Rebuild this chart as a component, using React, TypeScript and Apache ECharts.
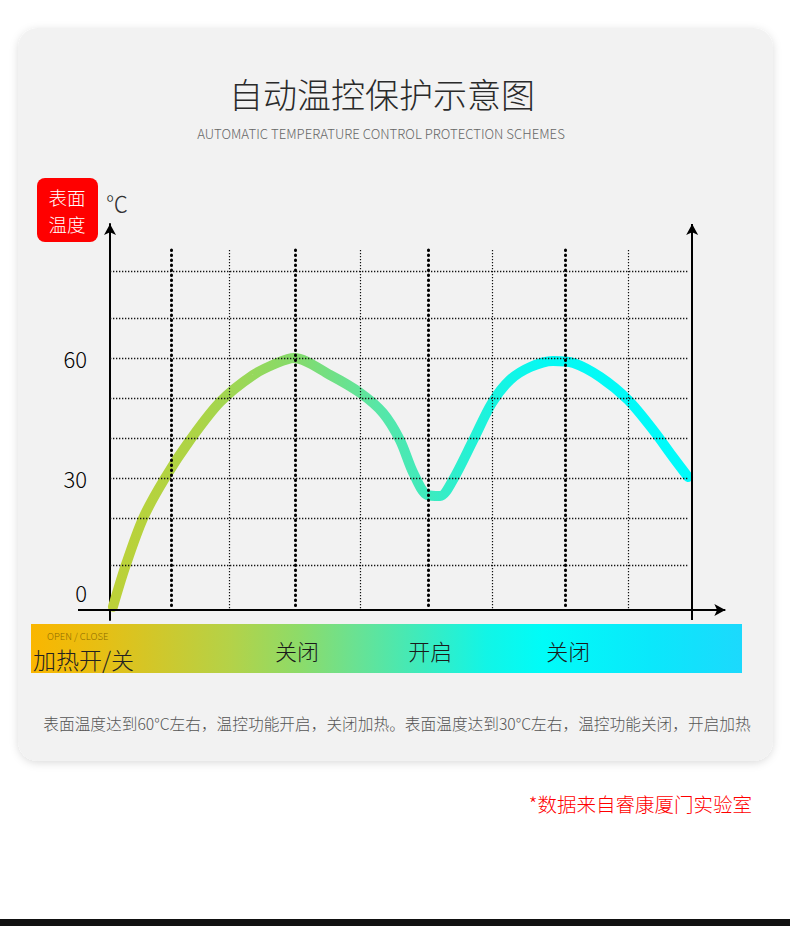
import React, { useEffect, useRef } from 'react';
import * as echarts from 'echarts';

// ---- data (time in arbitrary units 0..100 along the axis, temperature in °C) ----
const curveTime = [0.5, 2.6, 5.7, 9.45, 13.75, 18.9, 24.6, 28.7, 31.6, 37.8, 43.0, 46.9, 49.8, 52.1, 54.5, 56.7, 58.9, 62.4, 65.6, 68.7, 72.2, 76.1, 79.6, 84.2, 89.0, 93.3, 96.7, 99.3];
const curveTemp = [-2.2, 7.75, 20, 30, 39.5, 49, 55.75, 58.75, 60, 55.75, 51.25, 46.25, 39.5, 31.25, 25.75, 25.5, 29.5, 39.5, 48.75, 54.5, 57.75, 59.25, 58.75, 55.25, 49.5, 42, 35.25, 30.25];
const majorMarks = [10.5, 31.8, 54.6, 78.2];
const minorMarks = [20.4, 43.0, 65.6, 89.0];
const gridTemps = [8.25, 20, 30, 40, 50, 60, 70, 81.75];
const tempTicks = [0, 30, 60];
const switchStates = ['关闭', '开启', '关闭'];
const switchTimes = [32.1, 55.0, 78.7];

const FONT = '"Noto Sans CJK SC", "Noto Sans", sans-serif';

export default function App() {
  const ref = useRef<HTMLDivElement>(null);

  useEffect(() => {
    document.body.style.margin = '0';
    const chart = echarts.init(ref.current!, null, { renderer: 'svg' });
    const X_MIN = -5.5, X_MAX = 106.5, Y_MIN = -5.5, Y_MAX = 93.5;
    const curveData = curveTime.map((t, i) => [t, curveTemp[i]]);

    const hLines = gridTemps.map((v) => [
      { coord: [0, v], symbol: 'none' },
      { coord: [99.3, v], symbol: 'none' },
    ]);
    const vMajor = majorMarks.map((x) => [
      { coord: [x, 87], symbol: 'none' },
      { coord: [x, -3], symbol: 'none' },
    ]);
    const vMinor = minorMarks.map((x) => [
      { coord: [x, 87], symbol: 'none' },
      { coord: [x, -3], symbol: 'none' },
    ]);
    const axisLines = [
      [
        { coord: [X_MIN, -3], symbol: 'none' },
        { coord: [105.7, -3], symbol: 'arrow' },
      ],
      [
        { coord: [100, Y_MIN], symbol: 'none' },
        { coord: [100, Y_MAX], symbol: 'arrow' },
      ],
    ];

    const markSeries = (name: string, data: any[], lineStyle: any) => ({
      name,
      type: 'line',
      data: [],
      z: 3,
      silent: true,
      markLine: {
        silent: true,
        symbol: ['none', 'none'],
        symbolSize: [9, 11],
        label: { show: false },
        lineStyle,
        emphasis: { disabled: true },
        data,
      },
    });

    chart.setOption({
      animation: false,
      backgroundColor: '#ffffff',
      grid: { left: 78, right: 60, top: 224, bottom: 306 },
      xAxis: {
        type: 'value',
        min: X_MIN,
        max: X_MAX,
        axisLine: { show: false },
        axisTick: { show: false },
        axisLabel: { show: false },
        splitLine: { show: false },
      },
      yAxis: {
        type: 'value',
        min: Y_MIN,
        max: Y_MAX,
        axisLine: {
          show: true,
          onZero: true,
          symbol: ['none', 'arrow'],
          symbolSize: [9, 11],
          lineStyle: { color: '#000', width: 2 },
        },
        axisTick: { show: false },
        splitLine: { show: false },
        axisLabel: {
          customValues: tempTicks,
          color: '#000',
          fontSize: 22,
          fontFamily: FONT,
          fontWeight: 300,
          margin: -9,
          formatter: (v: number) => (v === 0 ? '{z|0}' : String(v)),
          rich: {
            z: { fontSize: 22, fontFamily: FONT, fontWeight: 300, color: '#000', padding: [0, 0, 12, 0] },
          },
        },
      },
      series: [
        {
          name: 'temp',
          type: 'line',
          data: curveData,
          smooth: 0.3,
          showSymbol: false,
          symbol: 'none',
          z: 1,
          lineStyle: {
            width: 10,
            cap: 'round',
            color: new echarts.graphic.LinearGradient(0, 0, 1, 0, [
              { offset: 0, color: '#bcd138' },
              { offset: 0.15, color: '#acd446' },
              { offset: 0.32, color: '#84db6c' },
              { offset: 0.46, color: '#58e6a6' },
              { offset: 0.55, color: '#3debbf' },
              { offset: 0.65, color: '#1cf3dd' },
              { offset: 0.75, color: '#05f9f3' },
              { offset: 1, color: '#00fbfb' },
            ]),
          },
        },
        markSeries('hgrid', hLines, { color: '#111', width: 1.3, type: [1.3, 1.7] }),
        markSeries('vminor', vMinor, { color: '#111', width: 1.2, type: [1.2, 1.8] }),
        markSeries('vmajor', vMajor, { color: '#000', width: 3, type: [0.5, 4.5], cap: 'round' }),
        markSeries('axes', axisLines, { color: '#000', width: 2, type: 'solid' }),
      ],
    });

    const labelPts = switchTimes.map((t) => chart.convertToPixel({ gridIndex: 0 }, [t, 0]) as number[]);
    const txt = (x: number, y: number, text: string, size: number, fill: string, align = 'center', weight: any = 300, extra: any = {}) => ({
      type: 'text',
      x,
      y,
      z: 5,
      silent: true,
      style: {
        text,
        fill,
        fontSize: size,
        fontFamily: FONT,
        fontWeight: weight,
        align,
        textAlign: align,
        verticalAlign: 'middle',
        textVerticalAlign: 'middle',
        ...extra,
      },
    });

    chart.setOption({
      graphic: [
        {
          type: 'rect',
          z: -10,
          silent: true,
          shape: { x: 18, y: 28, width: 755, height: 733, r: 20 },
          style: { fill: '#f2f2f2', shadowBlur: 8, shadowColor: 'rgba(0,0,0,0.14)', shadowOffsetY: 2 },
        },
        txt(382, 93, '自动温控保护示意图', 34, '#2a2a2a'),
        txt(381, 133, 'AUTOMATIC TEMPERATURE CONTROL PROTECTION SCHEMES', 13.2, '#666'),
        {
          type: 'rect',
          z: 5,
          silent: true,
          shape: { x: 37, y: 178, width: 61, height: 64, r: 8 },
          style: { fill: '#ff0000' },
        },
        txt(67, 197, '表面', 18.5, '#ffffff'),
        txt(67, 224, '温度', 18.5, '#ffffff'),
        txt(106, 202, '℃', 22, '#333', 'left'),
        {
          type: 'rect',
          z: 0,
          silent: true,
          shape: { x: 31, y: 624, width: 711, height: 49 },
          style: {
            fill: new echarts.graphic.LinearGradient(0, 0, 1, 0, [
              { offset: 0, color: '#fab600' },
              { offset: 0.1, color: '#e6bf14' },
              { offset: 0.28, color: '#b4d248' },
              { offset: 0.375, color: '#8edb68' },
              { offset: 0.46, color: '#68e294' },
              { offset: 0.56, color: '#38ecc2' },
              { offset: 0.64, color: '#12f5e6' },
              { offset: 0.72, color: '#00fcf8' },
              { offset: 0.87, color: '#0ae8fb' },
              { offset: 1, color: '#1cd9fd' },
            ]),
          },
        },
        txt(47, 636, 'OPEN / CLOSE', 9.5, '#8c6a00', 'left'),
        txt(33, 659, '加热开/关', 23, '#222', 'left'),
        ...labelPts.map((p, i) => txt(p[0], 649.5, switchStates[i], 22, '#1a1a1a')),
        txt(397, 723, '表面温度达到60°C左右，温控功能开启，关闭加热。表面温度达到30°C左右，温控功能关闭，开启加热', 15.7, '#555'),
        txt(752, 803, '*数据来自睿康厦门实验室', 19.5, '#ff0000', 'right'),
        {
          type: 'rect',
          z: 5,
          silent: true,
          shape: { x: 0, y: 919, width: 790, height: 7 },
          style: { fill: '#111' },
        },
      ],
    });

    return () => chart.dispose();
  }, []);

  return <div ref={ref} style={{ width: 790, height: 926 }} />;
}
